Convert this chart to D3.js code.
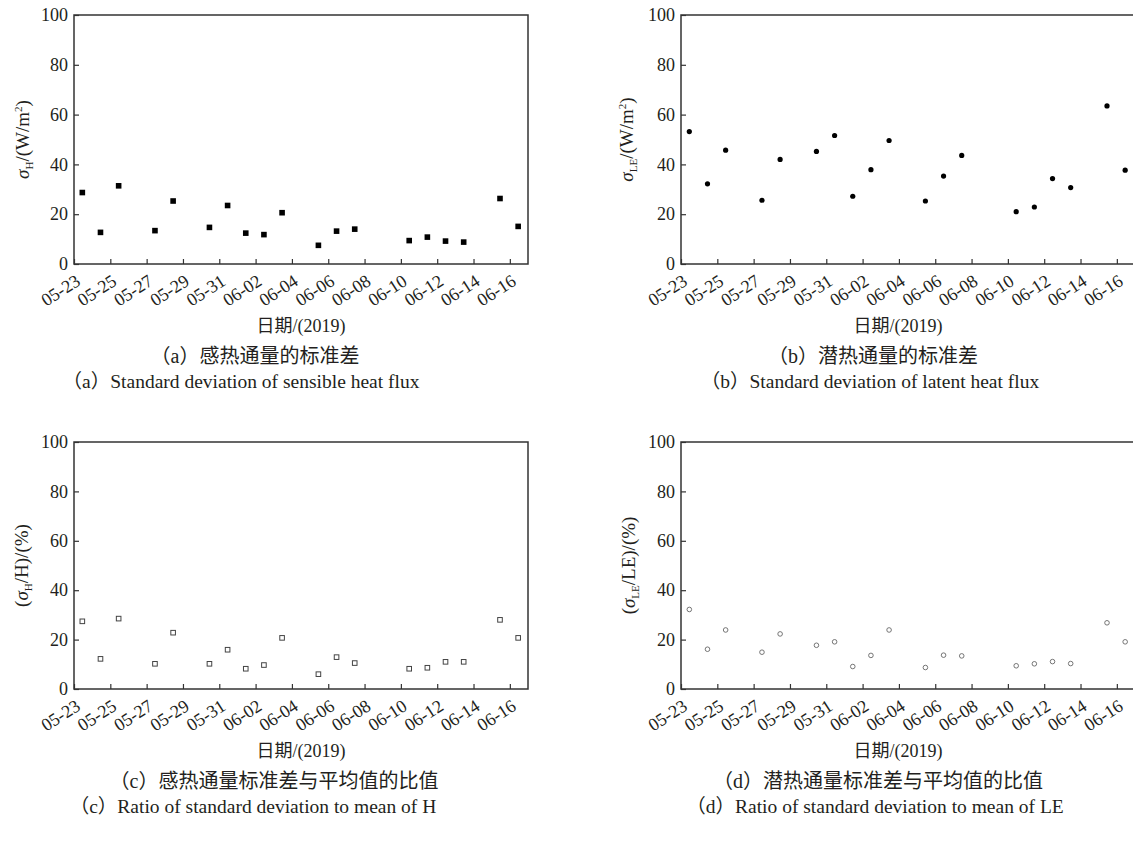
<!DOCTYPE html>
<html>
<head>
<meta charset="utf-8">
<script src="https://cdn.jsdelivr.net/npm/d3@7"></script>
<style>
	body { margin: 0; background: #fff; }
</style>
</head>
<body>
<svg id="chart" width="1133" height="841"></svg>
<script>
/*********************************************************\
* Data                               *
\*********************************************************/

var dates = ['2019-05-23', '2019-05-24', '2019-05-25', '2019-05-27', '2019-05-28',
	'2019-05-30', '2019-05-31', '2019-06-01', '2019-06-02', '2019-06-03',
	'2019-06-05', '2019-06-06', '2019-06-07', '2019-06-10', '2019-06-11',
	'2019-06-12', '2019-06-13', '2019-06-15', '2019-06-16'];

var sigmaH  = [28.7, 12.7, 31.4, 13.4, 25.3, 14.7, 23.5, 12.4, 11.8, 20.6,
	7.5, 13.2, 14.0, 9.4, 10.8, 9.2, 8.8, 26.3, 15.1];
var sigmaLE = [53.2, 32.2, 45.7, 25.6, 42.0, 45.2, 51.6, 27.2, 37.9, 49.6,
	25.3, 35.3, 43.6, 21.0, 22.9, 34.3, 30.7, 63.5, 37.7];
var ratioH  = [27.4, 12.2, 28.5, 10.2, 22.8, 10.2, 15.9, 8.2, 9.7, 20.7,
	6.0, 12.9, 10.5, 8.2, 8.6, 11.0, 11.0, 28.0, 20.7];
var ratioLE = [32.2, 16.1, 23.9, 14.9, 22.3, 17.7, 19.1, 9.1, 13.6, 23.9,
	8.7, 13.7, 13.4, 9.4, 10.2, 11.1, 10.3, 26.8, 19.1];

var yTicks = [0, 20, 40, 60, 80, 100];
var xStart = '2019-05-23', xEnd = '2019-06-17';

//- - - - - - - - - - - - - - - - - - - - - - - - - - - - - - - - - - - - - - - 

var FONT = '"Liberation Serif", "Times New Roman", "DejaVu Serif", "Noto Sans CJK SC", serif',
	INK = '#231f20';

var parse = d3.timeParse('%Y-%m-%d');
var fmt = d3.timeFormat('%m-%d');
var days = dates.map(function (d) { return d3.timeHour.offset(parse(d), 11); });

var panels = [
	{ values: sigmaH, left: 74, top: 15, h: 249, marker: 'fsq', ylx: 22,
		ylabel: [['σ', 'i'], ['H', 'sub'], ['/(W/m', ''], ['2', 'sup'], [')', '']],
		cn: '（a）感热通量的标准差', cnx: 255, en: '（a）Standard deviation of sensible heat flux', enx: 241 },
	{ values: sigmaLE, left: 681, top: 15, h: 249, marker: 'fci', ylx: 626,
		ylabel: [['σ', 'i'], ['LE', 'sub'], ['/(W/m', ''], ['2', 'sup'], [')', '']],
		cn: '（b）潜热通量的标准差', cnx: 873, en: '（b）Standard deviation of latent heat flux', enx: 870 },
	{ values: ratioH, left: 74, top: 442, h: 247, marker: 'osq', ylx: 21,
		ylabel: [['(', ''], ['σ', 'i'], ['H', 'sub'], ['/H)/(%)', '']],
		cn: '（c）感热通量标准差与平均值的比值', cnx: 274, en: '（c）Ratio of standard deviation to mean of H', enx: 253 },
	{ values: ratioLE, left: 681, top: 442, h: 247, marker: 'oci', ylx: 628,
		ylabel: [['(', ''], ['σ', 'i'], ['LE', 'sub'], ['/LE)/(%)', '']],
		cn: '（d）潜热通量标准差与平均值的比值', cnx: 878, en: '（d）Ratio of standard deviation to mean of LE', enx: 875 }
];

var svg = d3.select('#chart');
svg.append('rect').attr('width', 1133).attr('height', 841).attr('fill', '#fff');

panels.forEach(function (p) { drawPanel(p); });

svg.selectAll('g').attr('font-family', null);
svg.selectAll('text').style('font-family', FONT).attr('fill', INK);

//------------------------------------------------------------------------------

function drawPanel(p)
{
	var w = 454,
		x = d3.scaleTime().domain([parse(xStart), parse(xEnd)]).range([0, w]),
		y = d3.scaleLinear().domain([0, 100]).range([p.h, 0]),
		g = svg.append('g').attr('transform', 'translate(' + p.left + ',' + p.top + ')');

	var xAxis = g.append('g')
		.attr('transform', 'translate(0,' + p.h + ')')
		.call(d3.axisBottom(x)
			.tickValues(d3.timeDay.range(parse(xStart), parse(xEnd), 2))
			.tickFormat(fmt)
			.tickSize(-5)
			.tickSizeOuter(0));

	xAxis.selectAll('text')
		.attr('x', 0).attr('y', 0).attr('dy', 0)
		.attr('text-anchor', 'end')
		.attr('transform', 'translate(7,20) rotate(-33)')
		.style('font-size', '18px');

	var yAxis = g.append('g')
		.call(d3.axisLeft(y)
			.tickValues(yTicks)
			.tickSize(-5)
			.tickSizeOuter(0)
			.tickPadding(6));

	yAxis.selectAll('text').style('font-size', '18px');

	g.selectAll('.domain').remove();
	g.selectAll('.tick line').attr('stroke', '#333').attr('stroke-width', 1.2);

	g.append('rect')
		.attr('width', w).attr('height', p.h)
		.attr('fill', 'none').attr('stroke', '#333').attr('stroke-width', 1.5);

	// markers
	var pts = g.append('g').selectAll('.pt')
		.data(p.values.map(function (v, i) { return { t: days[i], v: v }; }))
		.enter();

	if (p.marker === 'fsq' || p.marker === 'osq') {
		var s = p.marker === 'fsq' ? 5.6 : 4.6;
		pts.append('rect')
			.attr('x', function (d) { return x(d.t) - s / 2; })
			.attr('y', function (d) { return y(d.v) - s / 2; })
			.attr('width', s).attr('height', s)
			.attr('fill', p.marker === 'fsq' ? '#000' : '#fff')
			.attr('stroke', p.marker === 'fsq' ? 'none' : '#444')
			.attr('stroke-width', 1);
	} else {
		pts.append('circle')
			.attr('cx', function (d) { return x(d.t); })
			.attr('cy', function (d) { return y(d.v); })
			.attr('r', p.marker === 'fci' ? 2.6 : 2.3)
			.attr('fill', p.marker === 'fci' ? '#000' : '#fff')
			.attr('stroke', p.marker === 'fci' ? 'none' : '#666')
			.attr('stroke-width', 0.9);
	}

	// y title
	var yl = g.append('text')
		.attr('transform', 'translate(' + (p.ylx - p.left) + ',' + (p.h / 2) + ') rotate(-90)')
		.attr('text-anchor', 'middle')
		.attr('dy', '0.35em')
		.style('font-size', '19px');

	p.ylabel.forEach(function (part, i) {
		var t = yl.append('tspan').text(part[0]),
			prev = i > 0 ? p.ylabel[i - 1][1] : '';
		if (part[1] === 'i') t.style('font-style', 'italic');
		if (part[1] === 'sub') t.style('font-size', '11px').attr('dy', '0.35em');
		if (part[1] === 'sup') t.style('font-size', '11px').attr('dy', '-0.6em');
		if (prev === 'sub') t.attr('dy', '-0.2em');
		if (prev === 'sup') t.attr('dy', '0.35em');
	});

	// x title
	g.append('text')
		.attr('x', w / 2 - (p.left > 600 ? 10 : 0))
		.attr('y', p.h + 68)
		.attr('text-anchor', 'middle')
		.style('font-size', '18px')
		.text('日期/(2019)');

	// captions
	svg.append('text')
		.attr('x', p.cnx).attr('y', p.top + p.h + 99)
		.attr('text-anchor', 'middle')
		.style('font-size', '20px')
		.text(p.cn);

	svg.append('text')
		.attr('x', p.enx).attr('y', p.top + p.h + 124)
		.attr('text-anchor', 'middle')
		.style('font-size', '19.5px')
		.text(p.en);
}
</script>
</body>
</html>
